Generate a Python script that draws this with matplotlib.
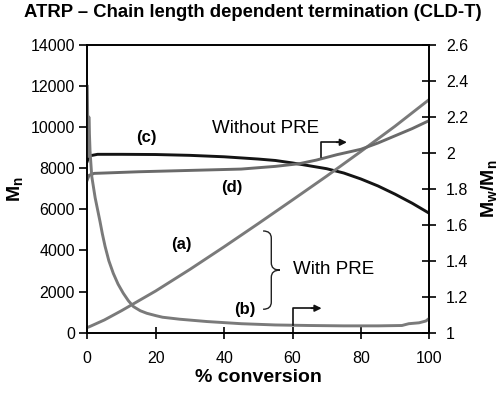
import numpy as np
import matplotlib
matplotlib.use('Agg')
import matplotlib.pyplot as plt
from matplotlib.path import Path
from matplotlib.patches import PathPatch

plt.rcParams['font.family'] = ['Liberation Sans', 'DejaVu Sans']
plt.rcParams['mathtext.fontset'] = 'custom'
plt.rcParams['mathtext.rm'] = 'Liberation Sans'
plt.rcParams['mathtext.bf'] = 'Liberation Sans:bold'

# (a) Mn with PRE
conv_a = [0, 1, 5, 10, 20, 30, 40, 50, 60, 70, 80, 90, 100]
mn_a = [250, 320, 620, 1070, 2030, 3080, 4180, 5310, 6460, 7620, 8820, 10050, 11350]

# (b) Mw/Mn with PRE
conv_b = [0, 0.25, 0.45, 0.8, 1.3, 2.3, 3.0, 3.7, 4.4, 5.2, 6.3, 7.6, 9.0, 10.5, 12.0,
          13.5, 15.5, 17.4, 20, 22, 27, 35, 45, 55, 65, 75, 85, 92, 94, 97, 99, 100]
pdi_b = [2.37, 1.98, 2.2, 2.01, 1.87, 1.75, 1.685, 1.62, 1.55, 1.48, 1.40, 1.33, 1.27,
         1.22, 1.178, 1.145, 1.122, 1.108, 1.095, 1.086, 1.075, 1.062, 1.05, 1.043, 1.04,
         1.038, 1.038, 1.04, 1.05, 1.055, 1.065, 1.08]

# (c) Mn without PRE
conv_c = [0, 0.5, 3, 10, 20, 30, 40, 50, 55, 60, 65, 70, 75, 80, 85, 90, 95, 100]
mn_c = [8350, 8600, 8680, 8680, 8670, 8630, 8560, 8450, 8380, 8260, 8120, 7980, 7770,
        7480, 7140, 6740, 6300, 5810]

# (d) Mw/Mn without PRE
conv_d = [0, 0.5, 2, 5, 15, 25, 35, 45, 55, 62, 67, 73, 80, 85, 90, 95, 100]
pdi_d = [1.85, 1.875, 1.886, 1.888, 1.895, 1.9, 1.905, 1.91, 1.925, 1.94, 1.96, 1.99, 2.02,
         2.055, 2.095, 2.135, 2.18]

x_ticks = [0, 20, 40, 60, 80, 100]
mn_ticks = list(range(0, 14001, 2000))
pdi_ticks = [1, 1.2, 1.4, 1.6, 1.8, 2, 2.2, 2.4, 2.6]

fig = plt.figure(figsize=(5, 3.94), dpi=100)
ax = fig.add_axes([0.1746, 0.1556, 0.684, 0.7302])
ax2 = ax.twinx()

gray_light = '#7a7a7a'
gray_dark = '#6a6a6a'
ax.plot(conv_c, mn_c, color='#141414', lw=2.1)
ax.plot(conv_a, mn_a, color=gray_light, lw=2.1)
ax2.plot(conv_d, pdi_d, color=gray_dark, lw=2.1)
ax2.plot(conv_b, pdi_b, color=gray_light, lw=2.1)

ax.set_xlim(0, 100)
ax.set_ylim(0, 14000)
ax2.set_ylim(1, 2.6)
ax.set_xticks(x_ticks)
ax.set_yticks(mn_ticks)
ax2.set_yticks(pdi_ticks)
ax2.set_yticklabels(['%g' % t for t in pdi_ticks])

ax.tick_params(axis='y', direction='out', length=6, width=1.2, pad=3, labelsize=11.5)
ax.tick_params(axis='x', direction='inout', length=8, width=1.2, pad=9, labelsize=11.5)
ax2.tick_params(axis='y', direction='inout', length=10, width=1.2, pad=7, labelsize=11.5)
for a in (ax, ax2):
    for s in a.spines.values():
        s.set_linewidth(1.2)

ax.set_xlabel('% conversion', fontsize=14, fontweight='bold', labelpad=2)
ax.set_ylabel(r'$\mathbf{M_n}$', fontsize=14, labelpad=4)
ax2.set_ylabel(r'$\mathbf{M_w/M_n}$', fontsize=14, labelpad=8)

fig.text(0.505, 0.99, 'ATRP \u2013 Chain length dependent termination (CLD-T)',
         ha='center', va='top', fontsize=13.3, fontweight='bold')

# labels
ax.text(17.2, 9500, '(c)', fontsize=12, fontweight='bold', ha='center', va='center')
ax.text(42.3, 7065, '(d)', fontsize=12, fontweight='bold', ha='center', va='center')
ax.text(27.4, 4270, '(a)', fontsize=12, fontweight='bold', ha='center', va='center')
ax.text(46.1, 1105, '(b)', fontsize=12, fontweight='bold', ha='center', va='center')
ax.text(36.5, 9950, 'Without PRE', fontsize=13.5, ha='left', va='center')
ax.text(60.1, 3075, 'With PRE', fontsize=13.5, ha='left', va='center')

# brace
xl, xm, xt = 51.4, 53.8, 56.3
yt, yc, yb = 4950, 3045, 1140
r = 350
verts = [(xl, yt), (xm, yt), (xm, yt - r), (xm, yc + r), (xm, yc), (xt, yc),
         (xm, yc), (xm, yc - r), (xm, yb + r), (xm, yb), (xl, yb)]
codes = [Path.MOVETO, Path.CURVE3, Path.CURVE3, Path.LINETO, Path.CURVE3, Path.CURVE3,
         Path.CURVE3, Path.CURVE3, Path.LINETO, Path.CURVE3, Path.CURVE3]
ax.add_patch(PathPatch(Path(verts, codes), fill=False, lw=1.0, color='#222222'))

# arrows pointing to right axis
def step_arrow(x0, y0, y1, x1):
    ax2.plot([x0, x0, x1 - 2], [y0, y1, y1], color='#111111', lw=1.2)
    ax2.annotate('', xy=(x1, y1), xytext=(x1 - 3, y1),
                 arrowprops=dict(arrowstyle='-|>', color='#111111', lw=1.2,
                                 mutation_scale=10, shrinkA=0, shrinkB=0))

step_arrow(68.2, 1.975, 2.059, 75.9)
step_arrow(60.2, 1.045, 1.136, 68.5)

fig.savefig('out.png', dpi=100)
